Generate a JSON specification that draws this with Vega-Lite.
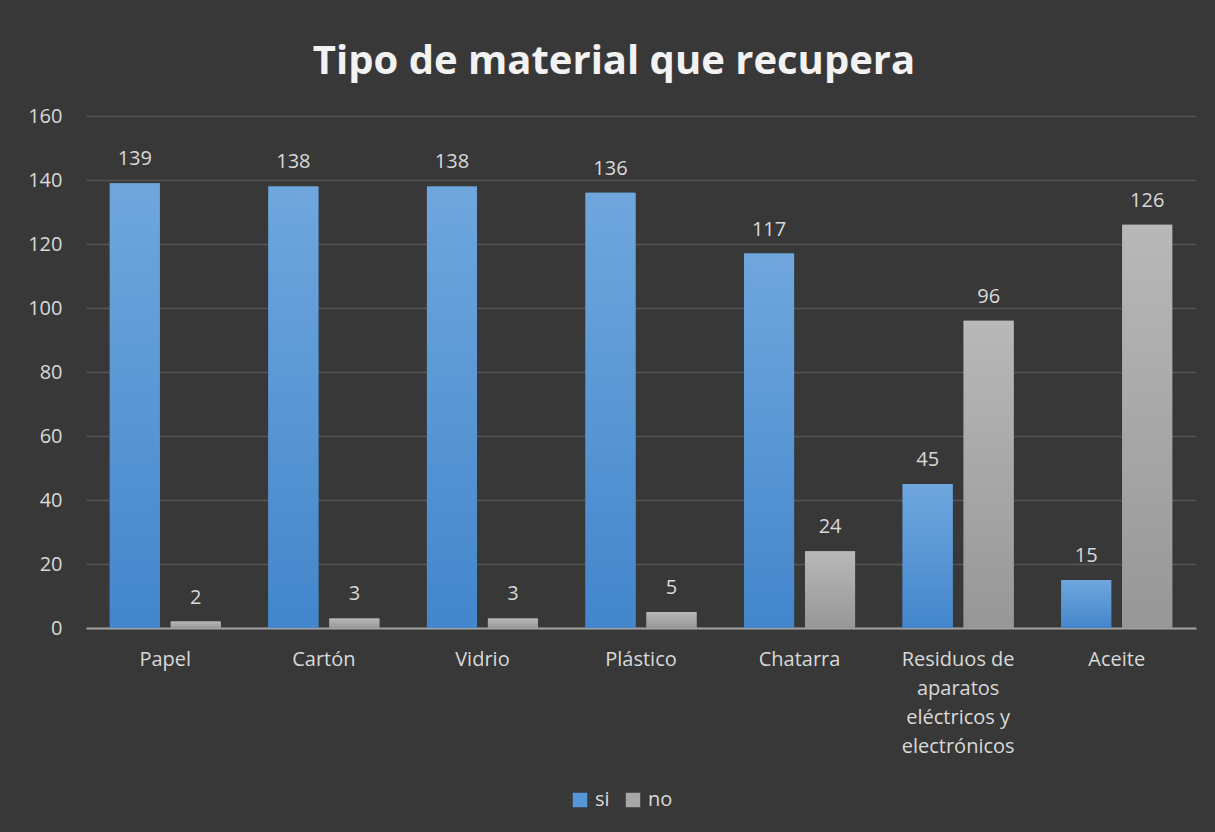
{
  "$schema": "https://vega.github.io/schema/vega-lite/v6.json",
  "width": 1110,
  "height": 512,
  "autosize": {"type": "none"},
  "padding": {"left": 86, "top": 116, "right": 19, "bottom": 204},
  "background": "#383838",
  "title": {
    "text": "Tipo de material que recupera",
    "font": "Open Sans",
    "fontSize": 40,
    "fontWeight": "bold",
    "color": "#f2f2f2",
    "anchor": "middle",
    "dx": -27,
    "offset": 24
  },
  "config": {
    "view": {"stroke": null},
    "font": "Open Sans"
  },
  "data": {
    "values": [
      {"material": "Papel", "serie": "si", "valor": 139},
      {"material": "Papel", "serie": "no", "valor": 2},
      {"material": "Cartón", "serie": "si", "valor": 138},
      {"material": "Cartón", "serie": "no", "valor": 3},
      {"material": "Vidrio", "serie": "si", "valor": 138},
      {"material": "Vidrio", "serie": "no", "valor": 3},
      {"material": "Plástico", "serie": "si", "valor": 136},
      {"material": "Plástico", "serie": "no", "valor": 5},
      {"material": "Chatarra", "serie": "si", "valor": 117},
      {"material": "Chatarra", "serie": "no", "valor": 24},
      {"material": "Residuos de aparatos eléctricos y electrónicos", "serie": "si", "valor": 45},
      {"material": "Residuos de aparatos eléctricos y electrónicos", "serie": "no", "valor": 96},
      {"material": "Aceite", "serie": "si", "valor": 15},
      {"material": "Aceite", "serie": "no", "valor": 126}
    ]
  },
  "encoding": {
    "x": {
      "field": "material",
      "type": "nominal",
      "sort": null,
      "scale": {"paddingInner": 0.3, "paddingOuter": 0.15},
      "axis": {
        "title": null,
        "labelAngle": 0,
        "labelFont": "Open Sans",
        "labelFontSize": 20,
        "labelColor": "#d9d9d9",
        "labelBaseline": "top",
        "labelPadding": 21,
        "labelLineHeight": 29,
        "labelLimit": 400,
        "labelExpr": "datum.label == 'Residuos de aparatos eléctricos y electrónicos' ? ['Residuos de', 'aparatos', 'eléctricos y', 'electrónicos'] : datum.label",
        "ticks": false,
        "domainColor": "#a0a0a0",
        "domainWidth": 2,
        "grid": false
      }
    },
    "xOffset": {
      "field": "serie",
      "type": "nominal",
      "sort": ["si", "no"],
      "scale": {"paddingInner": 0.18, "paddingOuter": 0}
    },
    "y": {
      "field": "valor",
      "type": "quantitative",
      "scale": {"domain": [0, 160], "nice": false},
      "axis": {
        "title": null,
        "values": [0, 20, 40, 60, 80, 100, 120, 140, 160],
        "labelFont": "Open Sans",
        "labelFontSize": 20,
        "labelColor": "#d9d9d9",
        "labelPadding": 24,
        "ticks": false,
        "tickSize": 0,
        "domain": false,
        "grid": true,
        "gridColor": "#555555",
        "gridWidth": 1.5
      }
    }
  },
  "layer": [
    {
      "mark": {"type": "bar"},
      "encoding": {
        "color": {
          "field": "serie",
          "type": "nominal",
          "scale": {"domain": ["si", "no"], "range": ["#5596d7", "#a6a6a6"]},
          "legend": {
            "orient": "none",
            "direction": "horizontal",
            "legendX": 484,
            "legendY": 674,
            "title": null,
            "symbolType": "square",
            "symbolSize": 210,
            "symbolStrokeWidth": 0,
            "labelFont": "Open Sans",
            "labelFontSize": 20,
            "labelColor": "#d9d9d9",
            "labelOffset": 5,
            "columnPadding": 13,
            "padding": 0
          }
        }
      }
    },
    {
      "mark": {"type": "bar"},
      "encoding": {
        "fill": {
          "condition": {
            "test": "datum.serie === 'si'",
            "value": {
              "gradient": "linear",
              "x1": 0, "y1": 0, "x2": 0, "y2": 1,
              "stops": [
                {"offset": 0, "color": "#6fa7dd"},
                {"offset": 1, "color": "#4386cc"}
              ]
            }
          },
          "value": {
            "gradient": "linear",
            "x1": 0, "y1": 0, "x2": 0, "y2": 1,
            "stops": [
              {"offset": 0, "color": "#b8b8b8"},
              {"offset": 1, "color": "#979797"}
            ]
          }
        }
      }
    },
    {
      "mark": {
        "type": "text",
        "font": "Open Sans",
        "fontSize": 20,
        "color": "#d9d9d9",
        "baseline": "alphabetic",
        "dy": -18
      },
      "encoding": {
        "text": {"field": "valor", "type": "quantitative"}
      }
    }
  ]
}
